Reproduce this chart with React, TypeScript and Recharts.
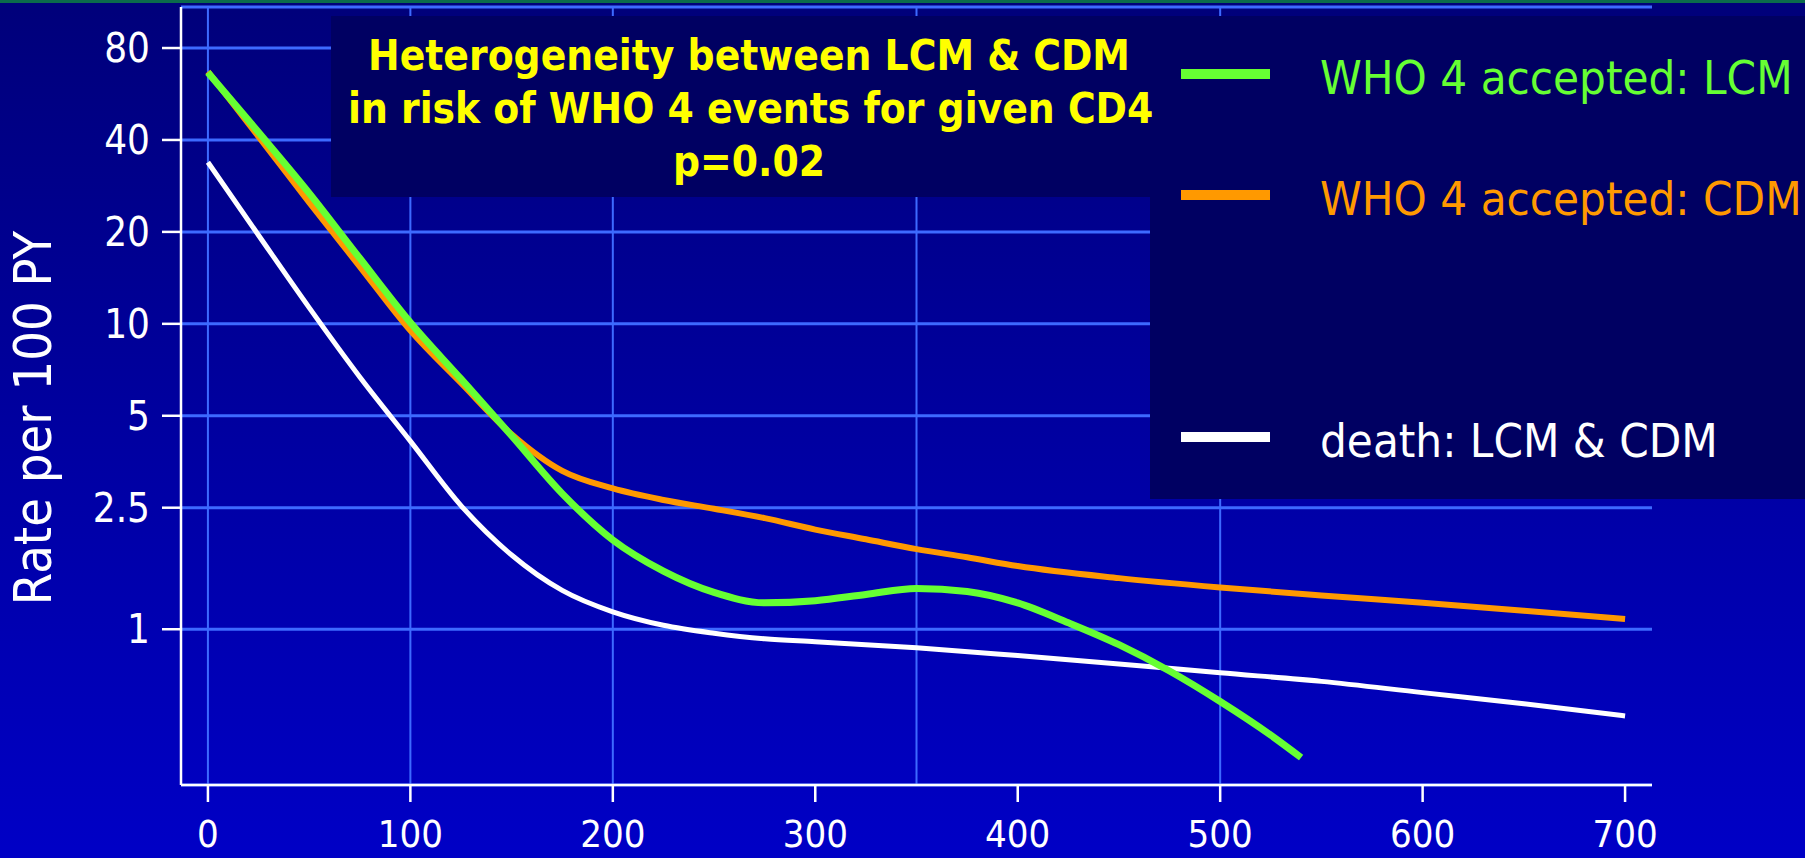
import React from 'react';
import { LineChart, Line, XAxis, YAxis, CartesianGrid, ReferenceLine, Legend } from 'recharts';

const W = 1805;
const H = 858;
const FONT = "'DejaVu Sans Condensed', 'Liberation Sans', sans-serif";
const GRID = '#3d6aff';
const BOX = '#000062';

// CD4 count (x) and rate per 100 PY (y)
const cd4Lcm = [0, 25, 50, 75, 100, 125, 150, 175, 200, 225, 250, 275, 300, 325, 350, 375, 400, 425, 450, 475, 500, 525, 540];
const rateLcm = [66.5, 42.4, 26.8, 16.4, 10.1, 6.6, 4.3, 2.78, 1.96, 1.55, 1.32, 1.22, 1.24, 1.3, 1.36, 1.33, 1.22, 1.05, 0.89, 0.73, 0.58, 0.45, 0.38];

const cd4Cdm = [0, 25, 50, 75, 100, 125, 150, 175, 200, 225, 250, 275, 300, 325, 350, 375, 400, 450, 500, 550, 600, 650, 700];
const rateCdm = [67, 41, 25, 15.4, 9.5, 6.4, 4.35, 3.3, 2.89, 2.65, 2.48, 2.31, 2.12, 1.97, 1.83, 1.72, 1.61, 1.47, 1.37, 1.29, 1.22, 1.15, 1.08];

const cd4Death = [0, 25, 50, 75, 100, 125, 150, 175, 200, 225, 250, 275, 300, 350, 400, 450, 500, 550, 600, 650, 700];
const rateDeath = [33.8, 19.5, 11.3, 6.7, 4.13, 2.54, 1.75, 1.34, 1.14, 1.03, 0.97, 0.93, 0.91, 0.87, 0.82, 0.77, 0.72, 0.675, 0.62, 0.57, 0.52];

const xTicks = [0, 100, 200, 300, 400, 500, 600, 700];
const xGrid = [0, 100, 200, 350, 500];
const yTicks = [1, 2.5, 5, 10, 20, 40, 80];

const toRows = (xs: number[], ys: number[]) => xs.map((cd4, i) => ({ cd4, rate: ys[i] }));

const lcmData = toRows(cd4Lcm, rateLcm);
const cdmData = toRows(cd4Cdm, rateCdm);
const deathData = toRows(cd4Death, rateDeath);

const legendOrder = ['WHO 4 accepted: LCM', 'WHO 4 accepted: CDM', 'death: LCM & CDM'];
const legendRowCenters = [58, 179, 421];

const renderLegend = (props: any) => {
  const items = [...(props.payload || [])].sort(
    (a: any, b: any) => legendOrder.indexOf(a.value) - legendOrder.indexOf(b.value)
  );
  return (
    <div style={{ position: 'relative', width: '100%', height: '100%' }}>
      {items.map((entry: any, i: number) => (
        <div
          key={entry.value}
          style={{
            position: 'absolute',
            left: 31,
            top: legendRowCenters[i] - 30,
            height: 60,
            display: 'flex',
            alignItems: 'center',
            whiteSpace: 'nowrap',
          }}
        >
          <span style={{ display: 'inline-block', width: 89, height: 10, background: entry.color }} />
          <span style={{ marginLeft: 50, color: entry.color, fontSize: 47, fontFamily: FONT, position: 'relative', top: 3 }}>
            {entry.value}
          </span>
        </div>
      ))}
    </div>
  );
};

export default function App() {
  return (
    <div
      style={{
        position: 'relative',
        width: W,
        height: H,
        overflow: 'hidden',
        background: 'linear-gradient(to bottom, #00007a 0%, #0000c6 100%)',
        fontFamily: FONT,
      }}
    >
      <style>{'body{margin:0}'}</style>
      <div style={{ position: 'absolute', left: 0, top: 0, width: W, height: 3, background: '#0b6b4b' }} />
      <LineChart width={W} height={H} margin={{ top: 7, right: 153, bottom: 0, left: 0 }}>
        <CartesianGrid vertical={false} stroke={GRID} strokeWidth={3} />
        {xGrid.map((v) => (
          <ReferenceLine key={v} x={v} stroke={GRID} strokeWidth={2} />
        ))}
        <XAxis
          type="number"
          dataKey="cd4"
          domain={[-13.3, 713.3]}
          ticks={xTicks}
          allowDataOverflow
          height={73}
          stroke="#ffffff"
          strokeWidth={2.5}
          tickSize={17}
          tickMargin={18}
          tick={{ fill: '#ffffff', fontSize: 38, fontFamily: FONT }}
        />
        <YAxis
          type="number"
          scale="log"
          domain={[0.309, 109]}
          ticks={yTicks}
          allowDataOverflow
          width={181}
          stroke="#ffffff"
          strokeWidth={2.5}
          tickSize={19}
          tickMargin={12}
          tickFormatter={(v: number) => String(v)}
          tick={{ fill: '#ffffff', fontSize: 40, fontFamily: FONT }}
        />
        <Legend
          layout="horizontal"
          verticalAlign="middle"
          align="center"
          width={655}
          height={483}
          wrapperStyle={{ left: 1150, top: 16, width: 655, height: 483, background: BOX }}
          content={renderLegend}
        />
        <Line data={deathData} dataKey="rate" name="death: LCM & CDM" type="monotone" stroke="#ffffff" strokeWidth={5} dot={false} isAnimationActive={false} />
        <Line data={cdmData} dataKey="rate" name="WHO 4 accepted: CDM" type="monotone" stroke="#ff9900" strokeWidth={6} dot={false} isAnimationActive={false} />
        <Line data={lcmData} dataKey="rate" name="WHO 4 accepted: LCM" type="monotone" stroke="#66ff33" strokeWidth={7} dot={false} isAnimationActive={false} />
      </LineChart>
      <div
        style={{
          position: 'absolute',
          left: 331,
          top: 16,
          width: 819,
          height: 181,
          boxSizing: 'border-box',
          paddingTop: 13,
          paddingLeft: 17,
          background: BOX,
          color: '#ffff00',
          fontWeight: 'bold',
          fontSize: 42,
          lineHeight: '53px',
          textAlign: 'center',
          whiteSpace: 'nowrap',
        }}
      >
        <div>Heterogeneity between LCM &amp; CDM</div>
        <div>in risk of WHO 4 events for given CD4</div>
        <div>p=0.02</div>
      </div>
      <div
        style={{
          position: 'absolute',
          left: 33,
          top: 418,
          transform: 'translate(-50%, -50%) rotate(-90deg)',
          color: '#ffffff',
          fontSize: 52,
          whiteSpace: 'nowrap',
        }}
      >
        Rate per 100 PY
      </div>
    </div>
  );
}
